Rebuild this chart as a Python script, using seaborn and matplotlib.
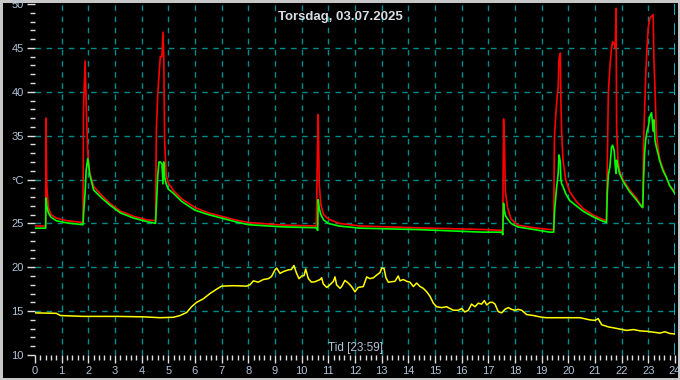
import pandas as pd
import matplotlib.pyplot as plt
import seaborn as sns
from matplotlib.ticker import MultipleLocator, FuncFormatter

# Time axis (hours) shared by the two flow/return temperatures
t_hot = [0.0, 0.40, 0.41, 0.44, 0.5, 0.6, 0.8, 1.2, 1.8, 1.82, 1.88, 1.92, 1.98, 2.05,
         2.2, 2.5, 2.8, 3.2, 3.7, 4.2, 4.52, 4.55, 4.6, 4.65, 4.7, 4.76, 4.8, 4.83, 4.86,
         4.92, 5.0, 5.2, 5.5, 6.0, 6.5, 7.0, 7.5, 8.0, 9.3, 10.55, 10.6, 10.62, 10.66,
         10.72, 10.82, 11.0, 11.4, 12.2, 14.3, 16.8, 17.52, 17.54, 17.57, 17.6, 17.64,
         17.72, 17.85, 18.1, 18.7, 19.3, 19.45, 19.48, 19.55, 19.62, 19.65, 19.7, 19.72,
         19.75, 19.8, 19.9, 20.05, 20.3, 20.55, 20.9, 21.25, 21.43, 21.46, 21.5, 21.56,
         21.62, 21.66, 21.72, 21.76, 21.79, 21.81, 21.86, 21.92, 22.05, 22.3, 22.55, 22.72,
         22.79, 22.82, 22.86, 22.9, 22.95, 23.0, 23.06, 23.12, 23.18, 23.21, 23.25, 23.3,
         23.36, 23.42, 23.55, 23.67, 23.8, 24.0]
red_temp = [24.7, 24.7, 37.0, 29.4, 26.8, 26.0, 25.6, 25.3, 25.1, 38.0, 43.5, 38.5, 33.0, 30.8,
            29.2, 28.2, 27.3, 26.4, 25.8, 25.4, 25.3, 35.6, 39.6, 41.9, 44.0, 44.0, 46.8, 44.0, 34.5,
            30.5, 29.6, 28.7, 27.8, 26.8, 26.2, 25.8, 25.4, 25.1, 24.8, 24.7, 34.7, 37.4, 29.4,
            27.1, 26.0, 25.5, 25.0, 24.7, 24.5, 24.3, 24.2, 24.2, 36.9, 34.7, 28.6,
            26.8, 25.5, 24.8, 24.5, 24.3, 24.3, 34.9, 38.3, 40.6, 43.8, 44.4, 39.1,
            35.3, 32.2, 30.0, 28.6, 27.5, 26.7, 26.0, 25.5, 25.3, 31.5, 39.8, 42.9,
            45.0, 45.7, 45.5, 45.0, 49.5, 36.0, 32.2, 31.0, 30.0, 28.8, 27.9, 27.1,
            26.8, 34.1, 37.9, 41.7, 45.0, 47.4, 48.4, 48.6, 48.8, 43.6, 40.3, 35.3,
            33.7, 32.4, 31.2, 30.3, 29.3, 28.6]
green_temp = [24.45, 24.45, 27.9, 27.0, 26.2, 25.7, 25.3, 25.05, 24.85, 26.0, 28.6, 31.1, 32.4, 30.6,
              28.8, 27.9, 27.1, 26.2, 25.6, 25.2, 25.0, 26.9, 30.3, 32.0, 32.0, 31.8, 29.5, 32.0, 30.3,
              29.5, 28.9, 28.4, 27.5, 26.5, 26.0, 25.6, 25.2, 24.85, 24.6, 24.5, 24.2, 27.7, 26.7,
              26.0, 25.4, 25.0, 24.7, 24.45, 24.3, 24.0, 24.0, 23.7, 27.3, 26.5, 25.9,
              25.5, 25.0, 24.6, 24.3, 24.0, 24.0, 26.2, 28.8, 30.7, 32.8, 32.0, 30.0,
              29.5, 29.2, 28.4, 27.6, 27.0, 26.4, 25.8, 25.3, 25.1, 28.4, 30.5, 31.5,
              33.7, 33.9, 33.3, 31.5, 30.7, 32.2, 31.5, 30.7, 29.8, 28.6, 27.7, 27.0,
              26.8, 30.0, 33.0, 34.5, 35.5, 36.0, 37.2, 37.6, 35.5, 36.8, 34.5, 33.7,
              33.0, 32.2, 31.0, 30.3, 29.3, 28.4]

# Outdoor temperature
t_out = [0.0, 0.8, 0.95, 1.8, 3.06, 4.06, 4.69, 5.19, 5.44, 5.69, 5.87, 6.06, 6.31, 6.56, 6.81,
         7.0, 7.44, 7.94, 8.06, 8.19, 8.37, 8.56, 8.75, 8.87, 9.0, 9.06, 9.19, 9.31, 9.5, 9.62,
         9.71, 9.81, 9.9, 10.0, 10.09, 10.15, 10.25, 10.37, 10.5, 10.69, 10.75, 10.81, 10.94,
         11.06, 11.19, 11.25, 11.31, 11.44, 11.5, 11.62, 11.75, 11.87, 12.0, 12.12, 12.31,
         12.44, 12.56, 12.69, 12.81, 12.94, 13.0, 13.09, 13.16, 13.25, 13.37, 13.5, 13.62,
         13.69, 13.81, 13.94, 14.06, 14.19, 14.31, 14.44, 14.56, 14.69, 14.81, 14.94, 15.06,
         15.25, 15.44, 15.56, 15.69, 15.87, 16.0, 16.12, 16.25, 16.37, 16.5, 16.62, 16.75,
         16.85, 16.94, 17.06, 17.16, 17.25, 17.37, 17.5, 17.62, 17.75, 17.87, 18.0, 18.12,
         18.25, 18.44, 18.69, 19.0, 19.19, 19.94, 20.44, 20.81, 21.0, 21.12, 21.25, 21.5,
         21.69, 21.94, 22.19, 22.44, 22.69, 22.94, 23.19, 23.44, 23.62, 23.81, 24.0]
out_temp = [14.8, 14.75, 14.5, 14.4, 14.4, 14.35, 14.25, 14.3, 14.5, 14.85, 15.5, 16.0, 16.4, 17.0, 17.5,
            17.85, 17.9, 17.85, 18.0, 18.45, 18.3, 18.6, 18.7, 18.95, 19.7, 19.9, 19.3, 19.5, 19.7, 19.75,
            20.2, 19.3, 18.7, 19.0, 19.05, 19.8, 18.7, 18.3, 18.35, 18.6, 18.8, 18.1, 17.7,
            18.0, 18.4, 18.9, 18.0, 17.6, 17.8, 18.5, 18.2, 17.8, 17.2, 17.7, 17.8,
            18.9, 18.7, 18.8, 19.1, 19.4, 19.9, 19.85, 18.8, 18.3, 18.35, 18.4, 19.0,
            18.45, 18.6, 18.4, 18.3, 17.8, 18.2, 17.8, 17.6, 17.2, 16.7, 15.9, 15.5,
            15.4, 15.5, 15.3, 15.1, 15.1, 15.3, 14.9, 15.1, 15.8, 15.5, 15.9, 15.8,
            16.2, 15.7, 16.0, 16.0, 15.8, 14.95, 14.8, 15.2, 15.4, 15.2, 15.1, 15.2,
            15.1, 14.6, 14.5, 14.3, 14.25, 14.25, 14.25, 14.0, 13.95, 14.15, 13.45, 13.2,
            13.1, 12.95, 12.8, 12.9, 12.75, 12.7, 12.6, 12.5, 12.65, 12.45, 12.4]

title = "Torsdag, 03.07.2025"
unit_tick = 30     # the y tick whose label is replaced by the unit
cursor_time = 24   # 23:59 cursor

hot = pd.DataFrame({"t": t_hot, "red": red_temp, "green": green_temp})
out = pd.DataFrame({"t": t_out, "temp": out_temp})

sns.set_style("dark", {"axes.facecolor": "black", "figure.facecolor": "black"})
plt.rcParams["font.family"] = ["Liberation Sans", "DejaVu Sans"]

label_col = "#b0c4d8"
fig = plt.figure(figsize=(6.8, 3.8), dpi=100, facecolor="black",
                 edgecolor="#c8c8c8", linewidth=2.5)
ax = fig.add_axes([35 / 680, 25 / 380, 640 / 680, 351 / 380])

sns.lineplot(data=out, x="t", y="temp", color="#ffff00", linewidth=1.1,
             estimator=None, sort=False, ax=ax)
sns.lineplot(data=hot, x="t", y="red", color="#ff0000", linewidth=1.2,
             estimator=None, sort=False, ax=ax)
sns.lineplot(data=hot, x="t", y="green", color="#00ff00", linewidth=1.2,
             estimator=None, sort=False, ax=ax)

ax.set_xlim(0, 24)
ax.set_ylim(10, 50)
ax.xaxis.set_major_locator(MultipleLocator(1))
ax.xaxis.set_minor_locator(MultipleLocator(0.2))
ax.yaxis.set_major_locator(MultipleLocator(5))
ax.yaxis.set_minor_locator(MultipleLocator(1))
ax.yaxis.set_major_formatter(FuncFormatter(
    lambda v, p: "°C" if round(v) == unit_tick else f"{v:.0f}"))

# dashed teal grid, skip the frame edges
for x in range(1, 24):
    ax.axvline(x, color="#008b8b", linewidth=1, linestyle=(0, (4, 4)), zorder=0)
for y in range(15, 50, 5):
    ax.axhline(y, color="#008b8b", linewidth=1, linestyle=(0, (4, 4)), zorder=0)
ax.axvline(cursor_time, color="#00d8e8", linewidth=1.2, linestyle=(0, (7, 5)), zorder=1)

for s in ax.spines.values():
    s.set_visible(False)
ax.tick_params(which="major", direction="out", length=6, width=1, color="#e0e0e0",
               labelcolor=label_col, labelsize=8, bottom=True, left=True, pad=2)
ax.tick_params(which="minor", direction="out", length=3.5, width=1, color="#e0e0e0",
               bottom=True, left=True)
ax.set_xlabel("")
ax.set_ylabel("")

fig.text(0.5, 1 - 17 / 380, title, ha="center", va="center", color="#d8dde4",
         fontsize=9.5, fontweight="bold")
ax.text(12, 10.8, "Tid [23:59]", ha="center", va="center", color=label_col, fontsize=8.5)

fig.savefig("out.png", dpi=100, facecolor="black", edgecolor="#c8c8c8")
